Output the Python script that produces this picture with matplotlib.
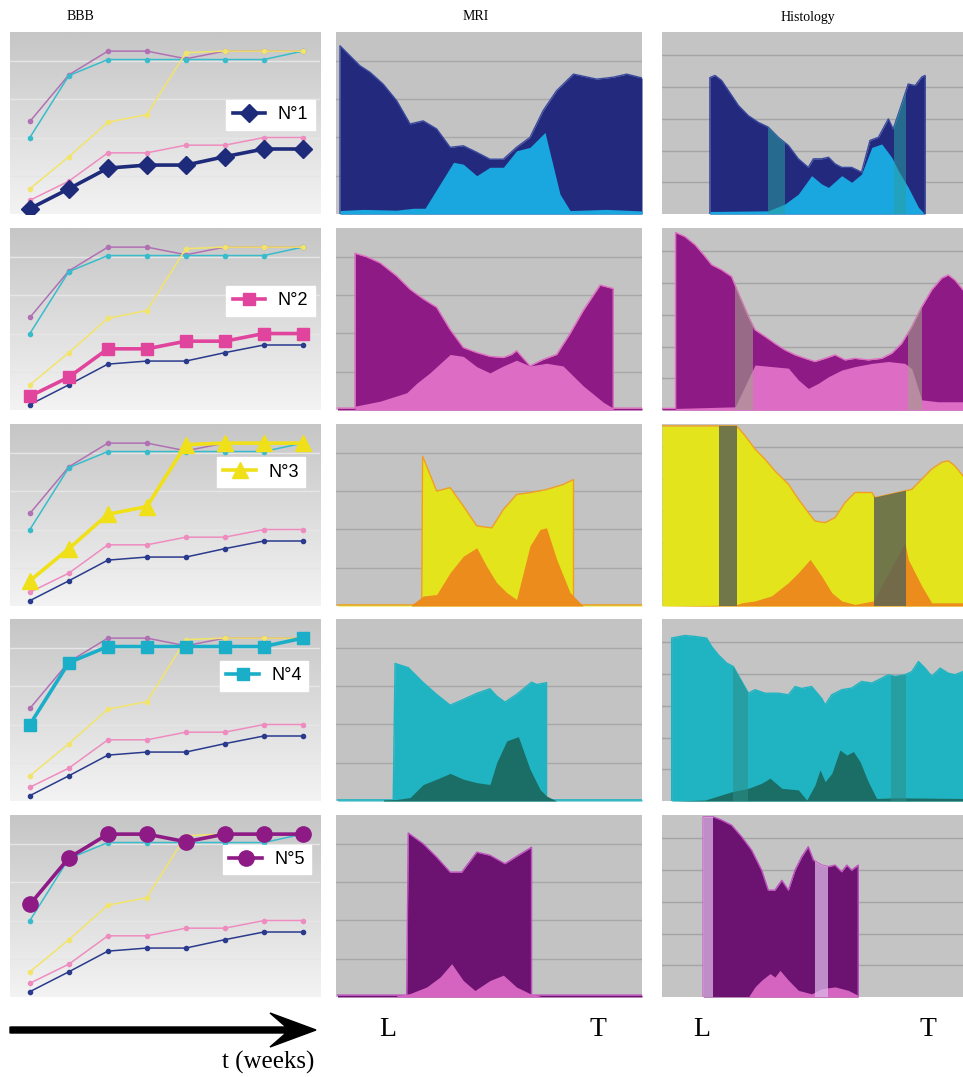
import matplotlib
matplotlib.use("Agg")
import matplotlib.pyplot as plt
import numpy as np
from matplotlib.patches import FancyArrow

# ---- BBB scores (8 weekly time points) ----
WEEKS = [0, 1, 2, 3, 4, 5, 6, 7]
BBB_N1 = [0.7, 3.3, 6.0, 6.4, 6.4, 7.5, 8.5, 8.5]
BBB_N2 = [1.8, 4.3, 8.0, 8.0, 9.0, 9.0, 10.0, 10.0]
BBB_N3 = [3.3, 7.5, 12.0, 13.0, 21.1, 21.3, 21.3, 21.3]
BBB_N4 = [10.0, 18.1, 20.2, 20.2, 20.2, 20.2, 20.2, 21.3]
BBB_N5 = [12.1, 18.2, 21.3, 21.3, 20.3, 21.3, 21.3, 21.3]
ANIMALS = ["N°1", "N°2", "N°3", "N°4", "N°5"]

# ---- MRI profiles, position along cord L -> T in % ----
MRI1_OUT_X = [1.3, 1.3, 7.8, 11.1, 15.4, 19.8, 24.2, 28.5, 32.9, 37.3, 41.6, 46.0, 50.3, 54.7, 59.0, 63.4, 67.7, 72.1, 77.6, 85.2, 90.6, 95.0, 100]
MRI1_OUT_Y = [0, 4.39, 3.87, 3.70, 3.39, 2.96, 2.35, 2.43, 2.22, 1.74, 1.78, 1.61, 1.43, 1.43, 1.74, 2.00, 2.70, 3.22, 3.65, 3.52, 3.57, 3.65, 3.55]
MRI1_IN_X = [1.3, 8.9, 19.8, 25.3, 29.1, 38.4, 41.6, 46.0, 50.3, 54.7, 59.0, 63.4, 68.3, 73.2, 76.5, 88.4, 100]
MRI1_IN_Y = [0.09, 0.12, 0.10, 0.15, 0.15, 1.35, 1.30, 1.00, 1.22, 1.22, 1.65, 1.74, 2.13, 0.52, 0.09, 0.12, 0.08]

MRI2_OUT_X = [0.5, 6.2, 6.2, 10.0, 14.4, 19.8, 24.2, 28.5, 32.9, 37.3, 41.6, 46.0, 50.3, 54.7, 57.4, 59.0, 63.4, 67.7, 72.1, 76.5, 80.8, 86.3, 90.6, 90.6, 100]
MRI2_OUT_Y = [0.05, 0.05, 4.09, 4.00, 3.84, 3.50, 3.15, 2.90, 2.68, 2.10, 1.63, 1.50, 1.40, 1.37, 1.45, 1.55, 1.15, 1.32, 1.45, 2.00, 2.60, 3.26, 3.17, 0.05, 0.05]
MRI2_IN_X = [6.2, 14.4, 23.1, 26.4, 30.7, 37.3, 41.6, 46.0, 50.3, 54.7, 59.0, 63.4, 68.8, 74.2, 80.8, 87.4, 90.6]
MRI2_IN_Y = [0.10, 0.23, 0.45, 0.70, 0.97, 1.45, 1.40, 1.13, 0.97, 1.15, 1.30, 1.15, 1.22, 1.15, 0.63, 0.20, 0.05]

MRI3_OUT_X = [0.5, 28.0, 28.3, 32.9, 37.3, 41.6, 46.0, 50.9, 54.7, 59.0, 63.4, 68.8, 74.2, 77.6, 77.6, 100]
MRI3_OUT_Y = [0.03, 0.03, 3.91, 3.00, 3.09, 2.61, 2.09, 2.04, 2.52, 2.91, 2.96, 3.04, 3.17, 3.30, 0.03, 0.03]
MRI3_IN_X = [24.7, 28.5, 32.9, 37.3, 41.6, 46.0, 49.2, 52.5, 55.8, 59.0, 63.4, 66.7, 68.8, 72.1, 76.5, 80.8]
MRI3_IN_Y = [0.03, 0.26, 0.30, 0.87, 1.30, 1.52, 1.04, 0.61, 0.35, 0.17, 1.57, 2.00, 2.04, 1.22, 0.35, 0.0]

MRI4_OUT_X = [0.5, 18.7, 19.3, 23.6, 28.5, 32.9, 37.3, 41.6, 46.0, 50.3, 52.5, 55.2, 59.0, 63.9, 65.6, 68.8, 68.8, 100]
MRI4_OUT_Y = [0.03, 0.03, 3.59, 3.48, 3.09, 2.78, 2.50, 2.65, 2.81, 2.93, 2.74, 2.58, 2.78, 3.10, 3.04, 3.09, 0.03, 0.03]
MRI4_IN_X = [15.5, 19.8, 24.2, 28.5, 32.9, 37.3, 41.6, 46.0, 50.3, 52.5, 55.8, 59.6, 63.4, 66.7, 68.8, 72.1]
MRI4_IN_Y = [0.03, 0.04, 0.09, 0.43, 0.57, 0.72, 0.57, 0.48, 0.43, 1.00, 1.57, 1.68, 0.83, 0.30, 0.13, 0.0]

MRI5_OUT_X = [0.5, 23.1, 23.6, 28.5, 32.9, 37.3, 41.1, 46.0, 50.3, 55.2, 59.6, 63.9, 63.9, 100]
MRI5_OUT_Y = [0.05, 0.05, 4.28, 4.00, 3.65, 3.26, 3.26, 3.78, 3.70, 3.48, 3.70, 3.91, 0.05, 0.05]
MRI5_IN_X = [19.8, 24.2, 29.6, 34.0, 37.8, 41.6, 45.4, 50.3, 54.7, 59.0, 63.4, 67.7]
MRI5_IN_Y = [0.03, 0.09, 0.26, 0.52, 0.87, 0.43, 0.17, 0.43, 0.57, 0.26, 0.09, 0.0]

# ---- Histology profiles ----
HIS1_OUT_X = [15.9, 15.9, 17.6, 19.8, 22.0, 25.4, 28.7, 32.0, 35.3, 38.6, 42.0, 45.3, 48.6, 50.3, 53.0, 55.3, 57.5, 59.7, 63.0, 66.3, 69.1, 71.9, 75.2, 76.8, 79.1, 81.8, 84.1, 86.3, 87.4, 87.4]
HIS1_OUT_Y = [0, 4.30, 4.37, 4.21, 3.90, 3.42, 3.10, 2.89, 2.74, 2.42, 2.16, 1.74, 1.47, 1.74, 1.74, 1.79, 1.58, 1.47, 1.47, 1.32, 2.32, 2.42, 3.00, 2.68, 3.32, 4.10, 4.05, 4.32, 4.37, 0]
HIS1_IN_X = [15.9, 35.3, 40.9, 45.3, 49.7, 53.0, 55.3, 59.7, 63.0, 66.3, 69.7, 73.0, 76.3, 78.5, 81.8, 85.2, 86.8]
HIS1_IN_Y = [0.08, 0.10, 0.32, 0.63, 1.21, 0.95, 0.84, 1.21, 1.00, 1.26, 2.10, 2.21, 1.79, 1.37, 0.84, 0.21, 0.05]
HIS1_BANDS = [(35.3, 40.9), (77.2, 81.0)]

HIS2_OUT_X = [0, 4.5, 4.5, 7.6, 11.0, 14.3, 16.5, 19.8, 23.1, 25.4, 28.7, 30.9, 34.2, 37.5, 40.9, 44.2, 47.5, 50.8, 54.2, 57.5, 60.8, 64.1, 68.5, 73.0, 76.3, 79.6, 83.0, 86.3, 89.6, 92.9, 95.1, 97.3, 100]
HIS2_OUT_Y = [0.05, 0.05, 5.60, 5.47, 5.21, 4.84, 4.58, 4.42, 4.21, 3.68, 2.95, 2.53, 2.32, 2.10, 1.89, 1.74, 1.63, 1.53, 1.63, 1.74, 1.58, 1.63, 1.58, 1.63, 1.79, 2.10, 2.63, 3.26, 3.79, 4.16, 4.26, 4.10, 3.79]
HIS2_IN_X = [4.5, 24.3, 30.9, 36.4, 42.0, 45.3, 48.6, 51.9, 55.3, 59.7, 64.1, 69.7, 75.2, 80.7, 83.0, 86.3, 91.8, 100]
HIS2_IN_Y = [0.05, 0.10, 1.42, 1.37, 1.32, 0.95, 0.68, 0.84, 1.05, 1.26, 1.37, 1.47, 1.53, 1.47, 1.30, 0.32, 0.26, 0.26]
HIS2_BANDS = [(24.3, 30.3), (81.8, 86.3)]

HIS3_OUT_X = [0, 24.8, 27.6, 30.9, 34.2, 37.5, 42.0, 45.3, 48.6, 50.8, 54.2, 57.5, 60.8, 64.1, 69.7, 70.8, 80.7, 83.0, 86.3, 89.6, 92.9, 95.1, 97.3, 100]
HIS3_OUT_Y = [5.68, 5.68, 5.37, 4.95, 4.63, 4.26, 3.84, 3.37, 2.95, 2.68, 2.63, 2.79, 3.26, 3.58, 3.58, 3.42, 3.63, 3.68, 4.00, 4.32, 4.53, 4.58, 4.42, 4.10]
HIS3_IN_X = [0, 24.3, 26.5, 30.9, 36.4, 42.0, 45.3, 49.2, 53.0, 56.4, 59.7, 64.1, 70.2, 74.1, 80.7, 81.8, 86.3, 89.6, 100]
HIS3_IN_Y = [0.0, 0.03, 0.10, 0.16, 0.32, 0.74, 1.05, 1.47, 0.95, 0.42, 0.16, 0.05, 0.16, 0.84, 2.00, 1.47, 0.63, 0.10, 0.10]
HIS3_BANDS = [(18.9, 24.8), (70.5, 81.0)]

HIS4_OUT_X = [3.2, 3.2, 7.6, 11.0, 14.8, 16.5, 18.7, 21.5, 23.7, 26.5, 28.7, 30.9, 34.2, 38.6, 42.0, 44.2, 46.4, 49.7, 53.0, 54.2, 56.4, 59.7, 63.0, 66.3, 69.7, 71.9, 75.2, 77.4, 80.7, 83.0, 85.2, 87.4, 89.6, 92.4, 95.1, 97.3, 100]
HIS4_OUT_Y = [0, 5.14, 5.22, 5.19, 5.14, 4.87, 4.61, 4.35, 4.24, 3.77, 3.40, 3.51, 3.40, 3.40, 3.35, 3.61, 3.55, 3.61, 3.24, 3.03, 3.35, 3.51, 3.56, 3.77, 3.72, 3.82, 3.98, 3.93, 3.98, 4.08, 4.40, 4.19, 3.93, 4.19, 4.03, 3.98, 4.08]
HIS4_IN_X = [3.2, 14.3, 23.1, 28.7, 33.1, 35.9, 39.8, 45.3, 48.1, 50.8, 52.5, 54.2, 56.4, 59.1, 61.4, 63.6, 65.8, 68.5, 71.3, 77.4, 100]
HIS4_IN_Y = [0.0, 0.03, 0.29, 0.40, 0.56, 0.72, 0.40, 0.35, 0.03, 0.50, 0.98, 0.61, 0.87, 1.61, 1.45, 1.56, 1.24, 0.61, 0.08, 0.10, 0.08]
HIS4_BANDS = [(23.7, 28.7), (76.1, 81.2)]

HIS5_OUT_X = [13.7, 13.7, 17.1, 19.8, 23.1, 26.5, 29.8, 33.1, 35.3, 37.5, 39.8, 42.0, 44.2, 46.4, 48.6, 50.3, 53.0, 55.3, 57.5, 59.7, 61.4, 63.0, 65.2, 65.2]
HIS5_OUT_Y = [0, 5.68, 5.68, 5.58, 5.42, 5.05, 4.63, 4.00, 3.37, 3.37, 3.68, 3.37, 4.00, 4.42, 4.74, 4.32, 4.16, 4.11, 4.16, 3.95, 4.16, 4.00, 4.16, 0]
HIS5_IN_X = [13.7, 28.7, 30.9, 33.1, 35.9, 37.5, 39.2, 42.0, 45.3, 49.7, 53.0, 57.5, 61.9, 65.2]
HIS5_IN_Y = [0.0, 0.0, 0.32, 0.53, 0.74, 0.63, 0.84, 0.53, 0.21, 0.10, 0.26, 0.32, 0.21, 0.05]
HIS5_BANDS = [(13.5, 17.1), (50.8, 55.3)]

# ---- styles ----
BBB_ALL = [BBB_N1, BBB_N2, BBB_N3, BBB_N4, BBB_N5]
LIGHT = ["#2a3a8c", "#ee8cc0", "#f2e46a", "#38bccb", "#b070b4"]
STRONG = ["#1e2a7a", "#e0449c", "#f0e01a", "#1aaec8", "#8e1a86"]
MARKERS = ["D", "s", "^", "s", "o"]
MSIZE = [9, 9, 11, 9, 11]
LEG_POS = [(0.84, 0.545), (0.84, 0.60), (0.81, 0.735), (0.82, 0.688), (0.83, 0.755)]

OUTER = ["#232a7e", "#8e1a86", "#e4e41c", "#20b4c2", "#6c1270"]
EDGE = ["#3a4aa0", "#e070c0", "#f0a020", "#20b4c2", "#c050c0"]
INNER = ["#1aa6de", "#dc6cc4", "#ec8c1c", "#1a6e66", "#d464c0"]
BANDC = [("#2aa0a0", 0.55), ("#a0a088", 0.6), ("#5e6452", 0.85), ("#2e8e88", 0.55), ("#dcb8e6", 0.75)]

MRI = [(MRI1_OUT_X, MRI1_OUT_Y, MRI1_IN_X, MRI1_IN_Y),
       (MRI2_OUT_X, MRI2_OUT_Y, MRI2_IN_X, MRI2_IN_Y),
       (MRI3_OUT_X, MRI3_OUT_Y, MRI3_IN_X, MRI3_IN_Y),
       (MRI4_OUT_X, MRI4_OUT_Y, MRI4_IN_X, MRI4_IN_Y),
       (MRI5_OUT_X, MRI5_OUT_Y, MRI5_IN_X, MRI5_IN_Y)]
HIS = [(HIS1_OUT_X, HIS1_OUT_Y, HIS1_IN_X, HIS1_IN_Y, HIS1_BANDS),
       (HIS2_OUT_X, HIS2_OUT_Y, HIS2_IN_X, HIS2_IN_Y, HIS2_BANDS),
       (HIS3_OUT_X, HIS3_OUT_Y, HIS3_IN_X, HIS3_IN_Y, HIS3_BANDS),
       (HIS4_OUT_X, HIS4_OUT_Y, HIS4_IN_X, HIS4_IN_Y, HIS4_BANDS),
       (HIS5_OUT_X, HIS5_OUT_Y, HIS5_IN_X, HIS5_IN_Y, HIS5_BANDS)]

W, H = 963, 1077
ROW_TOP = [32, 228, 424, 619, 815]
ROW_H = 182
COL_BBB = (10, 320)
COL_MRI = (336, 642)
COL_HIS = (662, 963)

fig = plt.figure(figsize=(W / 100, H / 100), dpi=100)
fig.patch.set_facecolor("white")


def add_ax(col, top):
    x0, x1 = col
    return fig.add_axes([x0 / W, 1 - (top + ROW_H) / H, (x1 - x0) / W, ROW_H / H])


def clean(ax):
    ax.set_xticks([])
    ax.set_yticks([])
    for s in ax.spines.values():
        s.set_visible(False)


grad = np.linspace(0, 1, 100).reshape(-1, 1)

for r in range(5):
    top = ROW_TOP[r]

    # BBB panel
    ax = add_ax(COL_BBB, top)
    clean(ax)
    ax.set_xlim(-0.51, 7.44)
    ax.set_ylim(0, 23.8)
    ax.imshow(grad, extent=(-0.51, 7.44, 0, 23.8), aspect="auto",
              cmap=matplotlib.colors.LinearSegmentedColormap.from_list("g", ["#f3f3f3", "#c6c6c6"]),
              origin="lower", zorder=0)
    for g in [5, 10, 15, 20]:
        ax.axhline(g, color="#e6e6e6", lw=1.0, zorder=1)
    order = [4, 3, 2, 1, 0]
    for k in order:
        if k == r:
            continue
        ax.plot(WEEKS, BBB_ALL[k], color=LIGHT[k], lw=1.1, marker="o", ms=3, zorder=2)
    h, = ax.plot(WEEKS, BBB_ALL[r], color=STRONG[r], lw=2.6, marker=MARKERS[r],
                 ms=MSIZE[r], markeredgecolor=STRONG[r], zorder=3)
    leg = ax.legend([h], [ANIMALS[r]], loc="center", bbox_to_anchor=LEG_POS[r],
                    frameon=True, fancybox=False, framealpha=1, facecolor="white",
                    edgecolor="white", prop={"family": "Liberation Sans", "size": 13},
                    handlelength=1.8, borderpad=0.35, handletextpad=0.7, numpoints=1)
    leg.set_zorder(5)

    # MRI panel
    ax = add_ax(COL_MRI, top)
    clean(ax)
    ax.set_facecolor("#c3c3c3")
    ax.set_xlim(0, 100)
    ax.set_ylim(0, 4.75)
    for g in [1, 2, 3, 4]:
        ax.axhline(g, color="#a8a8a8", lw=1.0, zorder=1)
    ox, oy, ix, iy = MRI[r]
    ax.fill_between(ox, 0, oy, color=OUTER[r], lw=0, zorder=2)
    ax.plot(ox, oy, color=EDGE[r], lw=1.0, zorder=2.5)
    ax.fill_between(ix, 0, iy, color=INNER[r], lw=0, zorder=3)

    # Histology panel
    ax = add_ax(COL_HIS, top)
    clean(ax)
    ax.set_facecolor("#c4c4c4")
    ax.set_xlim(0, 100)
    ax.set_ylim(0, 5.74)
    for g in [1, 2, 3, 4, 5]:
        ax.axhline(g, color="#a4a4a4", lw=1.0, zorder=1)
    ox, oy, ix, iy, bands = HIS[r]
    poly = ax.fill_between(ox, 0, oy, color=OUTER[r], lw=0, zorder=2)
    ax.plot(ox, oy, color=EDGE[r], lw=1.0, zorder=2.5)
    ax.fill_between(ix, 0, iy, color=INNER[r], lw=0, zorder=3)
    bc, ba = BANDC[r]
    for (a, b) in bands:
        span = ax.axvspan(a, b, color=bc, alpha=ba, lw=0, zorder=4)
        span.set_clip_path(poly.get_paths()[0], transform=ax.transData)

# overlay for titles, arrow and L/T labels (pixel coordinates)
ov = fig.add_axes([0, 0, 1, 1])
ov.set_xlim(0, W)
ov.set_ylim(H, 0)
ov.axis("off")
ov.patch.set_alpha(0)

serif = "Liberation Serif"
ov.text(80, 17, "BBB", family=serif, fontsize=10, ha="center", va="center")
ov.text(476, 17, "MRI", family=serif, fontsize=10, ha="center", va="center")
ov.text(808, 17, "Histology", family=serif, fontsize=10, ha="center", va="center")

ov.add_patch(FancyArrow(10, 1030, 306, 0, width=6, head_width=34, head_length=46,
                        overhang=0.35, length_includes_head=True, color="black"))
ov.text(268, 1062, "t (weeks)", family=serif, fontsize=18, ha="center", va="center")
for x, s in [(388, "L"), (598, "T"), (702, "L"), (928, "T")]:
    ov.text(x, 1030, s, family=serif, fontsize=20, ha="center", va="center")

fig.savefig("out.png", dpi=100)
